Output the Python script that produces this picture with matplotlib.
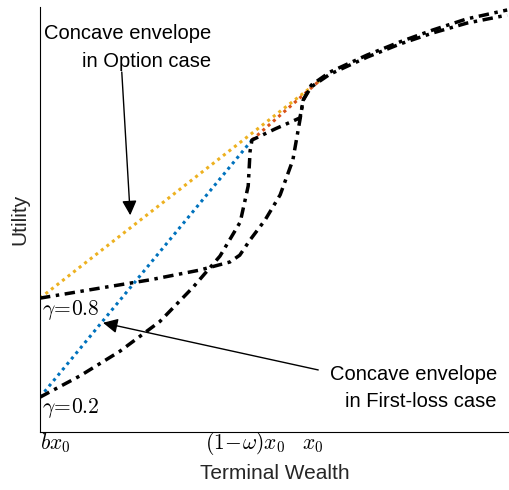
import matplotlib
matplotlib.use('Agg')
import matplotlib.pyplot as plt

plt.rcParams['font.family'] = ['Liberation Sans', 'DejaVu Sans']
plt.rcParams['mathtext.fontset'] = 'cm'

# wealth axis (normalised), tick positions and labels
tick_pos = [0.0, 0.436, 0.581]
tick_labels = [r'$bx_0$', r'$(1\!-\!\omega)x_0$', r'$x_0$']

# utility curve for gamma = 0.8 (option case)
w_opt = [0.0, 0.13, 0.234, 0.34, 0.404, 0.425, 0.447, 0.479, 0.511, 0.538, 0.553, 0.56, 0.577,
         0.617, 0.696, 0.766, 0.836, 0.908, 0.994]
u_opt = [0.315, 0.339, 0.358, 0.381, 0.4, 0.416, 0.452, 0.499, 0.558, 0.64, 0.734, 0.781, 0.816,
         0.847, 0.887, 0.918, 0.946, 0.972, 0.993]

# utility curve for gamma = 0.2 (first-loss case)
w_fl = [0.0, 0.085, 0.17, 0.255, 0.326, 0.383, 0.426, 0.443, 0.447, 0.451, 0.5, 0.553, 0.56,
        0.577, 0.617, 0.696, 0.766, 0.836, 0.908, 0.994]
u_fl = [0.082, 0.132, 0.19, 0.26, 0.341, 0.414, 0.494, 0.579, 0.661, 0.687, 0.713, 0.739, 0.781,
        0.812, 0.842, 0.882, 0.913, 0.939, 0.962, 0.981]

# concave envelopes
env_opt_w = [0.0, 0.594]
env_opt_u = [0.315, 0.826]
env_fl_w = [0.0, 0.451]
env_fl_u = [0.082, 0.687]
env_fl2_w = [0.451, 0.594]
env_fl2_u = [0.687, 0.826]

fig = plt.figure(figsize=(5.1, 4.9), dpi=100)
ax = fig.add_axes([40 / 510, 58 / 490, 470 / 510, 425 / 490])

dot = (0, (1, 1.3))
dashdot = (0, (3, 1.6, 1, 1.6))
ax.plot(env_opt_w, env_opt_u, color='#EDB120', lw=2.2, linestyle=dot)
ax.plot(env_fl_w, env_fl_u, color='#0072BD', lw=2.2, linestyle=dot)
ax.plot(env_fl2_w, env_fl2_u, color='#D95319', lw=2.2, linestyle=dot)
ax.plot(w_opt, u_opt, color='black', lw=2.5, linestyle=dashdot)
ax.plot(w_fl, u_fl, color='black', lw=2.5, linestyle=dashdot)

ax.set_xlim(0, 1)
ax.set_ylim(0, 1)
ax.spines['top'].set_visible(False)
ax.spines['right'].set_visible(False)
ax.set_yticks([])
ax.set_xticks([])

# tick labels on a common baseline
for pos, lab in zip(tick_pos, tick_labels):
    ax.text(pos, -0.04, lab, fontsize=15.5, va='baseline',
            ha='left' if pos == 0 else 'center', transform=ax.get_xaxis_transform())

ax.set_xlabel('Terminal Wealth', fontsize=15, color='#262626', labelpad=23)
ax.set_ylabel('Utility', fontsize=15, color='#262626', labelpad=8)

ax.text(0.004, 0.287, r'$\gamma\!=\!0.8$', fontsize=15.5, va='center', ha='left')
ax.text(0.004, 0.056, r'$\gamma\!=\!0.2$', fontsize=15.5, va='center', ha='left')

arrow = dict(arrowstyle='-|>', color='black', lw=1, mutation_scale=22, shrinkA=0, shrinkB=0)
ax.text(0.365, 0.905, 'Concave envelope\nin Option case', ha='right', va='center',
        multialignment='right', fontsize=14.5, linespacing=1.55)
ax.annotate('', xy=(0.192, 0.51), xytext=(0.174, 0.847), arrowprops=arrow)
ax.text(0.972, 0.104, 'Concave envelope\nin First-loss case', ha='right', va='center',
        multialignment='right', fontsize=14.5, linespacing=1.55)
ax.annotate('', xy=(0.134, 0.257), xytext=(0.592, 0.146), arrowprops=arrow)

fig.savefig('out.png', dpi=100)
